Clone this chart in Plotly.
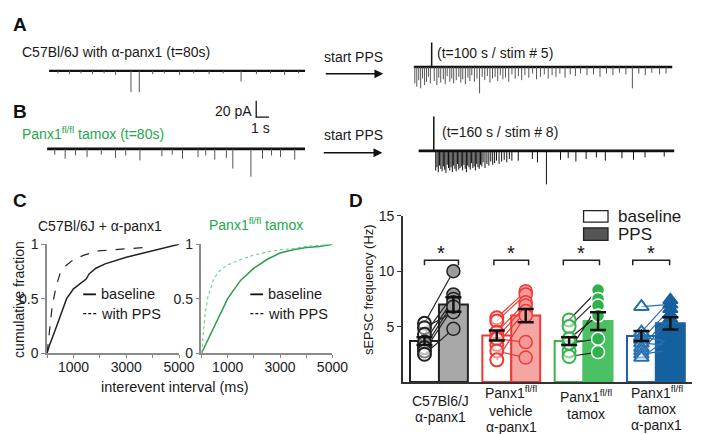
import plotly.graph_objects as go

W, H = 702, 434
FONT = "Liberation Sans, Arial, sans-serif"
GREEN = "#22a84a"

def fx(px):
    return px / W

def fy(py):
    return 1 - py / H

# ---------------- DATA ----------------
# Panel A / B traces: event times (s) and amplitudes (pA, inward = downward)
pre_A_t = [0.7, 1.6, 2.5, 3.4, 4.3, 5.2, 6.4, 7.05, 8.1, 9.0, 10.2, 11.3, 12.5, 13.6, 15.0, 16.2, 17.3, 18.4, 19.5]
pre_A_amp = [3, 4, 3, 4, 3, 5, 26, 26, 4, 3, 5, 3, 4, 3, 13, 4, 3, 5, 3]

post_A_stim_t = [1.4]
post_A_stim_amp = [30]
post_A_t = [0.1, 0.25, 0.4, 0.55, 0.7, 0.85, 1.0, 1.15, 1.3, 1.6, 1.8, 1.95, 2.1, 2.3, 2.45, 2.6, 2.8, 2.95,
            3.1, 3.3, 3.5, 3.65, 3.8, 4.0, 4.2, 4.35, 4.5, 4.7, 4.9, 5.1, 5.3, 5.5, 5.7, 5.9, 6.1, 6.3,
            6.5, 6.7, 6.9, 7.1, 7.35, 7.6, 7.85, 8.1, 8.35, 8.6, 8.9, 9.2, 9.5, 9.8, 10.1, 10.4, 10.7,
            11.0, 11.3, 11.7, 12.1, 12.5, 12.9, 13.4, 13.9, 14.4, 14.9, 15.4, 15.9, 16.4, 16.9, 17.4,
            17.9, 18.4, 19.0, 19.5]
post_A_amp = [20, 24, 16, 26, 14, 22, 18, 12, 20, 17, 22, 13, 19, 15, 21, 11, 18, 14,
              20, 16, 12, 19, 15, 21, 13, 17, 10, 18, 14, 32, 12, 16, 11, 19, 14, 12,
              17, 10, 15, 13, 18, 9, 14, 11, 16, 10, 13, 8, 15, 12, 9, 14, 10,
              12, 8, 13, 9, 11, 8, 10, 9, 12, 8, 10, 7, 9, 26, 8,
              10, 7, 9, 8]

pre_B_t = [0.6, 1.4, 2.2, 3.1, 4.2, 5.3, 6.1, 7.2, 8.9, 9.7, 10.5, 11.7, 12.3, 13.0, 13.9, 14.4, 15.8, 16.7, 17.4, 18.1, 19.2]
pre_B_amp = [7, 12, 8, 10, 7, 11, 8, 14, 9, 7, 12, 10, 8, 13, 11, 24, 34, 12, 8, 10, 13]

post_B_stim_t = [1.2]
post_B_stim_amp = [42]
post_B_t = [1.35, 1.45, 1.55, 1.65, 1.75, 1.85, 1.95, 2.05, 2.15, 2.25, 2.35, 2.45, 2.55, 2.65, 2.75, 2.85,
            2.95, 3.05, 3.15, 3.25, 3.35, 3.45, 3.55, 3.65, 3.75, 3.85, 3.95, 4.05, 4.15, 4.25, 4.35, 4.45,
            4.55, 4.65, 4.75, 4.85, 4.95, 5.05, 5.2, 5.35, 5.5, 5.65, 5.8, 5.95, 6.1, 6.3, 6.5, 6.7, 6.9,
            7.1, 7.3,
            7.8, 8.9, 9.3, 10.0, 11.1, 11.7, 12.3, 13.1, 13.9, 14.6, 15.9, 16.8, 17.7, 19.2]
post_B_amp = [24, 20, 26, 18, 22, 25, 19, 23, 27, 17, 21, 24, 20, 26, 18, 22,
              25, 16, 23, 21, 19, 24, 17, 22, 26, 18, 20, 23, 15, 21, 19, 24,
              16, 20, 22, 17, 19, 14, 21, 16, 18, 13, 17, 15, 12, 16, 13, 11, 14,
              10, 12,
              12, 10, 14, 41, 11, 9, 13, 10, 8, 12, 9, 11, 8, 7]

trace_duration_s = 20
scale_pA = 20
scale_s = 1

# Panel C: cumulative distributions (interevent interval ms, cumulative fraction)
wt_base_x = [0, 100, 260, 500, 740, 1000, 1200, 1480, 1600, 1850, 2200, 2600, 3000, 3500, 4000, 4500, 5000]
wt_base_y = [0, 0.08, 0.18, 0.35, 0.5, 0.59, 0.63, 0.68, 0.73, 0.78, 0.82, 0.85, 0.88, 0.91, 0.94, 0.97, 1.0]
wt_pps_x = [0, 50, 100, 180, 250, 350, 490, 700, 1000, 1400, 1960, 2500, 3000, 3700]
wt_pps_y = [0, 0.12, 0.25, 0.4, 0.5, 0.62, 0.73, 0.8, 0.86, 0.9, 0.94, 0.95, 0.96, 0.97]
ko_base_x = [0, 200, 400, 600, 800, 1000, 1200, 1500, 2000, 2500, 3000, 3500, 4000, 4500, 5000]
ko_base_y = [0, 0.1, 0.2, 0.3, 0.4, 0.5, 0.57, 0.67, 0.78, 0.86, 0.92, 0.95, 0.97, 0.98, 1.0]
ko_pps_x = [0, 50, 100, 150, 250, 350, 450, 600, 800, 1000, 1200, 1600, 2000, 2500, 3000, 3500, 4000, 4500, 5000]
ko_pps_y = [0, 0.15, 0.28, 0.38, 0.52, 0.6, 0.67, 0.73, 0.78, 0.81, 0.83, 0.87, 0.9, 0.93, 0.95, 0.96, 0.98, 0.99, 1.0]

# Panel D: sEPSC frequency (Hz)
group_lines = [["C57Bl6/J", "α-panx1"],
               ["Panx1<sup>fl/fl</sup>", "vehicle", "α-panx1"],
               ["Panx1<sup>fl/fl</sup>", "tamox"],
               ["Panx1<sup>fl/fl</sup>", "tamox", "α-panx1"]]
base_mean = [3.7, 4.2, 3.7, 4.15]
base_sem = [0.35, 0.45, 0.35, 0.45]
pps_mean = [7.0, 6.0, 5.5, 5.3]
pps_sem = [0.65, 0.6, 0.8, 0.55]

g1_base = [5.3, 4.9, 4.3, 3.6, 3.1, 2.8, 2.5]
g1_pps = [10.0, 6.3, 7.9, 7.5, 7.2, 6.8, 4.8]
g2_base = [5.8, 5.5, 4.5, 4.0, 3.4, 3.9, 2.8, 2.0]
g2_pps = [8.2, 7.9, 7.2, 6.9, 6.4, 3.6, 2.2, 6.0]
g3_base = [5.6, 5.0, 2.8, 3.5, 3.9, 2.3]
g3_pps = [8.3, 7.5, 6.9, 3.9, 6.0, 2.7]
g4_base = [6.8, 4.5, 4.1, 3.8, 3.5, 3.1, 2.8, 2.5, 2.2]
g4_pps = [7.0, 7.4, 3.6, 6.6, 3.3, 6.1, 5.7, 2.9, 4.1]

# ---------------- FIGURE ----------------
fig = go.Figure()
PX_PER_PA = 0.85
layout_axes = {}


def trace_axes(n, x0, x1, yb, up=60, dn=45):
    up = min(up, yb)
    layout_axes[f"xaxis{n}"] = dict(domain=[fx(x0), fx(x1)], range=[0, trace_duration_s], visible=False,
                                    anchor=f"y{n}", fixedrange=True)
    layout_axes[f"yaxis{n}"] = dict(domain=[fy(yb + dn), fy(yb - up)], range=[-dn / PX_PER_PA, up / PX_PER_PA],
                                    visible=False, anchor=f"x{n}", fixedrange=True)


def add_trace_panel(n, ev_t, ev_amp, stim_t=None, stim_amp=None, base_w=2.5, ev_color="#444"):
    xs, ys = [], []
    for t, a in zip(ev_t, ev_amp):
        xs += [t, t, None]
        ys += [0, -a, None]
    fig.add_trace(go.Scatter(x=[0, trace_duration_s], y=[0, 0], mode="lines",
                             line=dict(color="#111", width=base_w), xaxis=f"x{n}", yaxis=f"y{n}",
                             showlegend=False, hoverinfo="skip"))
    fig.add_trace(go.Scatter(x=xs, y=ys, mode="lines", line=dict(color=ev_color, width=1),
                             xaxis=f"x{n}", yaxis=f"y{n}", showlegend=False, hoverinfo="skip"))
    if stim_t:
        sx, sy = [], []
        for t, a in zip(stim_t, stim_amp):
            sx += [t, t, None]
            sy += [0, a, None]
        fig.add_trace(go.Scatter(x=sx, y=sy, mode="lines", line=dict(color="#111", width=1.5),
                                 xaxis=f"x{n}", yaxis=f"y{n}", showlegend=False, hoverinfo="skip"))


trace_axes(1, 42, 304, 57)
trace_axes(2, 415, 680, 53)
trace_axes(3, 40, 304, 138)
trace_axes(4, 420, 682, 140)

add_trace_panel(1, pre_A_t, pre_A_amp, base_w=2.2, ev_color="#555")
add_trace_panel(2, post_A_t, post_A_amp, post_A_stim_t, post_A_stim_amp, base_w=2.6, ev_color="#555")
add_trace_panel(3, pre_B_t, pre_B_amp, base_w=2.8, ev_color="#555")
add_trace_panel(4, post_B_t, post_B_amp, post_B_stim_t, post_B_stim_amp, base_w=2.8, ev_color="#111")

# scale bar (20 pA / 1 s) on panel B left axes
sb_t0 = (254 - 40) / 13.2
sb_y0 = (138 - 105) / PX_PER_PA
fig.add_trace(go.Scatter(x=[sb_t0, sb_t0, sb_t0 + scale_s], y=[sb_y0 + scale_pA, sb_y0, sb_y0], mode="lines",
                         line=dict(color="#111", width=1.3), xaxis="x3", yaxis="y3",
                         showlegend=False, hoverinfo="skip"))

# ---- Panel C axes ----
for n, x0, x1 in [(5, 40, 175), (6, 198, 332)]:
    layout_axes[f"xaxis{n}"] = dict(domain=[fx(x0), fx(x1)], range=[0, 5000], anchor=f"y{n}",
                                    tickvals=[0, 1000, 2000, 3000, 4000, 5000],
                                    ticktext=["", "1000", "", "3000", "", "5000"],
                                    ticks="outside", ticklen=3, tickcolor="#888", showline=True,
                                    linecolor="#8a8a8a", linewidth=1.5, showgrid=False, zeroline=False,
                                    ticklabelstandoff=-3,
                                    tickfont=dict(size=14, color="#222", family=FONT), fixedrange=True)
    layout_axes[f"yaxis{n}"] = dict(domain=[fy(350), fy(237)], range=[0, 1.0], anchor=f"x{n}",
                                    tickvals=[0, 0.5, 1], ticktext=["0", "0.5", "1"],
                                    ticks="outside", ticklen=4, tickcolor="#888", showline=True,
                                    linecolor="#8a8a8a", linewidth=1.5, showgrid=False, zeroline=False,
                                    tickfont=dict(size=14, color="#222", family=FONT), fixedrange=True)

fig.add_trace(go.Scatter(x=wt_base_x, y=wt_base_y, mode="lines", line=dict(color="#222", width=1.5),
                         xaxis="x5", yaxis="y5", showlegend=False, cliponaxis=False))
fig.add_trace(go.Scatter(x=wt_pps_x, y=wt_pps_y, mode="lines", line=dict(color="#222", width=1.2, dash="dash"),
                         xaxis="x5", yaxis="y5", showlegend=False, cliponaxis=False))
fig.add_trace(go.Scatter(x=ko_base_x, y=ko_base_y, mode="lines", line=dict(color="#2a9d4a", width=1.5),
                         xaxis="x6", yaxis="y6", showlegend=False, cliponaxis=False))
fig.add_trace(go.Scatter(x=ko_pps_x, y=ko_pps_y, mode="lines", line=dict(color="#6fd08a", width=1.2, dash="dot"),
                         xaxis="x6", yaxis="y6", showlegend=False, cliponaxis=False))

# ---- Panel D axes ----
layout_axes["xaxis7"] = dict(domain=[fx(404), fx(700)], range=[0.5, 4.5], anchor="y7", showline=True,
                             linecolor="#333", linewidth=2, showticklabels=False, ticks="", showgrid=False,
                             zeroline=False, fixedrange=True)
layout_axes["yaxis7"] = dict(domain=[fy(380), fy(207.5)], range=[0, 15], anchor="x7", showline=True,
                             linecolor="#333", linewidth=1.5, tickvals=[5, 10, 15], ticks="outside",
                             ticklen=4, tickcolor="#333", showgrid=False, zeroline=False,
                             tickfont=dict(size=14, color="#222", family=FONT), fixedrange=True)

pos = [1, 2, 3, 4]
bar_w = 0.4
base_fill = ["white", "white", "white", "white"]
base_line = ["#222", "#ee3a36", "#36b34a", "#1e5f9c"]
pps_fill = ["#a8a8a8", "#f6a6a2", "#4cc163", "#13629f"]
pps_line = ["#222", "#ee3a36", "#4cc163", "#1e5f9c"]

fig.add_trace(go.Bar(x=[p - 0.2 for p in pos], y=base_mean, width=bar_w,
                     marker=dict(color=base_fill, line=dict(color=base_line, width=2)),
                     xaxis="x7", yaxis="y7", showlegend=False))
fig.add_trace(go.Bar(x=[p + 0.2 for p in pos], y=pps_mean, width=bar_w,
                     marker=dict(color=pps_fill, line=dict(color=pps_line, width=2)),
                     xaxis="x7", yaxis="y7", showlegend=False))

group_pts = [(g1_base, g1_pps), (g2_base, g2_pps), (g3_base, g3_pps), (g4_base, g4_pps)]
pair_line_col = ["#222", "#ee3a36", "#222", "#2a6fb0"]
base_sym = ["circle", "circle", "circle", "triangle-up"]
base_mfill = ["rgba(255,255,255,0.45)"] * 4
base_mline = ["#222", "#ee3a36", "#36b34a", "#2a6fb0"]
pps_mfill = ["#9c9c9c", "#f59a96", "#2eb24a", "#15609e"]
pps_mline = ["#222", "#ee3a36", "white", "#15609e"]

for i, (b, p) in enumerate(group_pts):
    xb, xp = pos[i] - 0.2, pos[i] + 0.2
    lx, ly = [], []
    for vb, vp in zip(b, p):
        lx += [xb, xp, None]
        ly += [vb, vp, None]
    fig.add_trace(go.Scatter(x=lx, y=ly, mode="lines", line=dict(color=pair_line_col[i], width=1.2),
                             xaxis="x7", yaxis="y7", showlegend=False, hoverinfo="skip"))
    fig.add_trace(go.Scatter(x=[xb] * len(b), y=b, mode="markers",
                             marker=dict(symbol=base_sym[i], size=13, color=base_mfill[i],
                                         line=dict(color=base_mline[i], width=2)),
                             xaxis="x7", yaxis="y7", showlegend=False))
    fig.add_trace(go.Scatter(x=[xp] * len(p), y=p, mode="markers",
                             marker=dict(symbol=base_sym[i], size=13, color=pps_mfill[i],
                                         line=dict(color=pps_mline[i], width=1.5)),
                             xaxis="x7", yaxis="y7", showlegend=False))

# error bars on top
fig.add_trace(go.Scatter(x=[p - 0.2 for p in pos] + [p + 0.2 for p in pos], y=base_mean + pps_mean,
                         mode="markers", marker=dict(color="rgba(0,0,0,0)", size=2),
                         error_y=dict(type="data", array=base_sem + pps_sem, color="#111", thickness=2.5, width=8),
                         xaxis="x7", yaxis="y7", showlegend=False, hoverinfo="skip"))

# ---------------- annotations / shapes ----------------
annotations = []
shapes = []


def ann(text, x, y, size=14, color="#1a1a1a", xanchor="left", yanchor="middle", bold=False, textangle=0, align="left"):
    annotations.append(dict(text=f"<b>{text}</b>" if bold else text, x=fx(x), y=fy(y), xref="paper", yref="paper",
                            showarrow=False, xanchor=xanchor, yanchor=yanchor, textangle=textangle, align=align,
                            font=dict(size=size, color=color, family=FONT)))


def arrow(x0, x1, y):
    annotations.append(dict(text="", x=fx(x1), y=fy(y), ax=-(x1 - x0), ay=0, xref="paper", yref="paper",
                            axref="pixel", ayref="pixel", showarrow=True, arrowhead=2, arrowsize=1.1,
                            arrowwidth=1.6, arrowcolor="#111"))


# panel letters
ann("A", 3, 9, size=19, bold=True, color="#111")
ann("B", 3, 99, size=19, bold=True, color="#111")
ann("C", 3, 192, size=19, bold=True, color="#111")
ann("D", 347, 192, size=19, bold=True, color="#111")

# panel A / B texts
ann("C57Bl/6J with α-panx1 (t=80s)", 12, 37)
ann("start PPS", 354, 43, xanchor="center")
arrow(325, 384, 60)
ann("(t=100 s / stim # 5)", 437, 38)
ann("20 pA", 252, 99, xanchor="right")
ann("1 s", 258, 116, xanchor="center")
ann("Panx1<sup>fl/fl</sup> tamox (t=80s)", 12, 121, color=GREEN)
ann("start PPS", 354, 124, xanchor="center")
arrow(323, 383, 142)
ann("(t=160 s / stim # 8)", 442, 120)

# panel C texts
ann("C57Bl/6J + α-panx1", 94, 218, xanchor="center")
ann("Panx1<sup>fl/fl</sup> tamox", 254, 216, xanchor="center", color=GREEN)
ann("cumulative fraction", 11, 294, xanchor="center", textangle=-90)
ann("interevent interval (ms)", 170, 385, size=14.5, xanchor="center")
for lx0 in (77, 248):
    shapes.append(dict(type="line", xref="paper", yref="paper", x0=fx(lx0), x1=fx(lx0 + 13), y0=fy(289), y1=fy(289),
                       line=dict(color="#111", width=1.8)))
    shapes.append(dict(type="line", xref="paper", yref="paper", x0=fx(lx0), x1=fx(lx0 + 14), y0=fy(309), y1=fy(309),
                       line=dict(color="#111", width=1.3, dash="3px,2px")))
    ann("baseline", lx0 + 16, 289, size=14.5)
    ann("with PPS", lx0 + 16, 309, size=14.5)

# panel D texts
ann("sEPSC frequency (Hz)", 369, 284, size=13, xanchor="center", textangle=-90)
label_x = [443, 515, 591, 664]
label_line_y = [[400, 416], [390, 410, 427], [395, 413], [390, 408, 425]]
for gx, ys, lines in zip(label_x, label_line_y, group_lines):
    for ly, txt in zip(ys, lines):
        ann(txt, gx, ly, size=14, xanchor="center")

# legend of D
shapes.append(dict(type="rect", xref="paper", yref="paper", x0=fx(589), x1=fx(614), y0=fy(202), y1=fy(214),
                   line=dict(color="#222", width=1.3), fillcolor="white"))
shapes.append(dict(type="rect", xref="paper", yref="paper", x0=fx(589), x1=fx(614), y0=fy(220), y1=fy(233),
                   line=dict(color="#222", width=1.3), fillcolor="#555"))
ann("baseline", 622, 208, size=17)
ann("PPS", 622, 227, size=17)

# significance brackets (extent relative to group centre)
bracket_lo = [-0.2, -0.24, -0.28, -0.32]
bracket_hi = [0.27, 0.24, 0.22, 0.19]
for p, lo, hi in zip(pos, bracket_lo, bracket_hi):
    xa, xb = p + lo, p + hi
    shapes.append(dict(type="path", xref="x7", yref="y7",
                       path=f"M {xa},10.55 L {xa},11.0 L {xb},11.0 L {xb},10.55",
                       line=dict(color="#222", width=1.5)))
    annotations.append(dict(text="*", x=(xa + xb) / 2, y=11.0, xref="x7", yref="y7", showarrow=False,
                            yanchor="bottom", yshift=-6, font=dict(size=20, color="#111", family=FONT)))

fig.update_layout(width=W, height=H, margin=dict(l=0, r=0, t=0, b=0), autosize=False,
                  paper_bgcolor="white", plot_bgcolor="rgba(0,0,0,0)", barmode="overlay",
                  annotations=annotations, shapes=shapes, showlegend=False,
                  font=dict(family=FONT), **layout_axes)

fig.write_html("out.html")
